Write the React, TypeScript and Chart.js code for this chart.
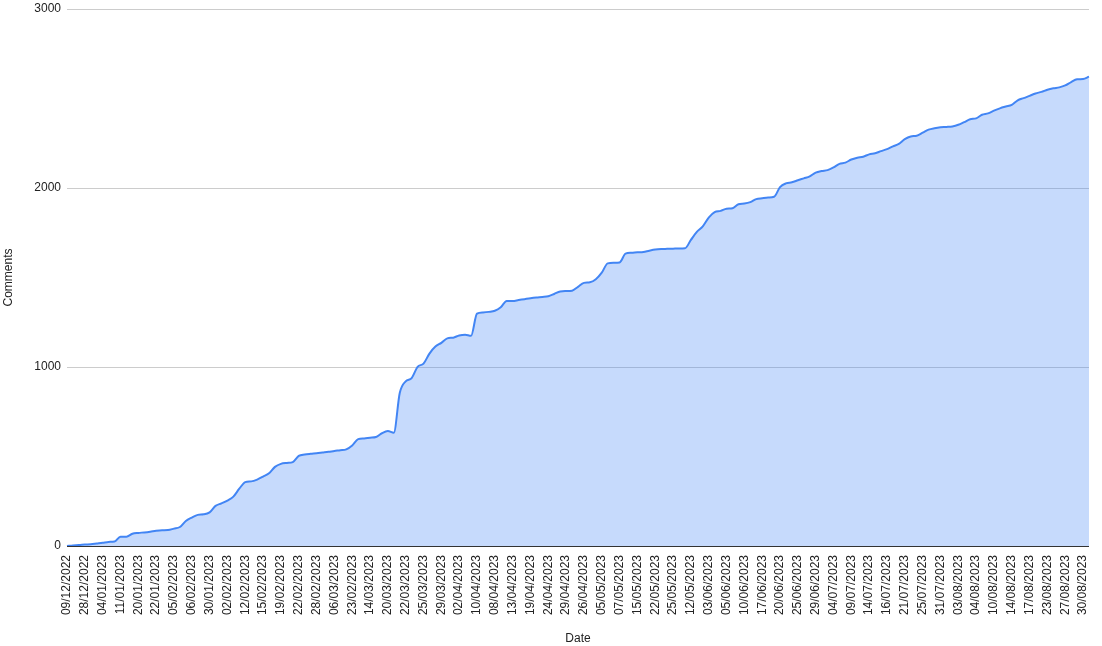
import { useEffect, useRef } from "react"
import { Chart, registerables } from "chart.js"

Chart.register(...registerables)

// tick labels shown on the x axis (one every 3 data points)
const tickDates = [
  "09/12/2022", "28/12/2022", "04/01/2023", "11/01/2023", "20/01/2023", "22/01/2023",
  "05/02/2023", "06/02/2023", "30/01/2023", "02/02/2023", "12/02/2023", "15/02/2023",
  "19/02/2023", "22/02/2023", "28/02/2023", "06/03/2023", "23/02/2023", "14/03/2023",
  "20/03/2023", "22/03/2023", "25/03/2023", "29/03/2023", "02/04/2023", "10/04/2023",
  "08/04/2023", "13/04/2023", "19/04/2023", "24/04/2023", "29/04/2023", "26/04/2023",
  "05/05/2023", "07/05/2023", "15/05/2023", "22/05/2023", "25/05/2023", "12/05/2023",
  "03/06/2023", "05/06/2023", "10/06/2023", "17/06/2023", "20/06/2023", "25/06/2023",
  "29/06/2023", "04/07/2023", "09/07/2023", "14/07/2023", "16/07/2023", "21/07/2023",
  "25/07/2023", "31/07/2023", "03/08/2023", "04/08/2023", "10/08/2023", "14/08/2023",
  "17/08/2023", "23/08/2023", "27/08/2023", "30/08/2023",
]

const pointsPerTick = 3

// cumulative comments
const comments = [
  0, 3, 5, 8, 10, 14, 18, 23, 25, 52,
  52, 68, 73, 76, 80, 85, 88, 89, 97, 106,
  140, 159, 174, 177, 188, 224, 238, 254, 276, 320,
  357, 361, 371, 388, 406, 442, 459, 464, 469, 503,
  511, 515, 518, 522, 526, 531, 535, 540, 562, 597,
  601, 605, 609, 630, 642, 633, 855, 920, 938, 1001,
  1019, 1075, 1114, 1135, 1160, 1164, 1176, 1180, 1174, 1298,
  1305, 1308, 1314, 1334, 1369, 1369, 1374, 1379, 1384, 1388,
  1391, 1395, 1408, 1422, 1424, 1426, 1448, 1470, 1473, 1490,
  1527, 1579, 1582, 1584, 1633, 1638, 1641, 1643, 1650, 1656,
  1659, 1660, 1661, 1662, 1663, 1710, 1755, 1786, 1835, 1865,
  1872, 1884, 1887, 1909, 1913, 1921, 1938, 1943, 1947, 1951,
  2005, 2026, 2032, 2043, 2054, 2065, 2086, 2095, 2100, 2115,
  2135, 2142, 2159, 2169, 2175, 2188, 2194, 2206, 2217, 2233,
  2246, 2273, 2288, 2292, 2309, 2326, 2334, 2339, 2341, 2344,
  2353, 2368, 2384, 2389, 2409, 2417, 2432, 2445, 2455, 2464,
  2490, 2502, 2515, 2528, 2537, 2549, 2557, 2562, 2573, 2592,
  2607, 2609, 2622,
]

const font = { family: "'Liberation Sans', Arial, sans-serif", size: 12 }

export default function App() {
  const chartRef = useRef<HTMLCanvasElement>(null)
  const chartInstance = useRef<Chart | null>(null)

  useEffect(() => {
    if (!chartRef.current) return

    const labels = comments.map((_, i) =>
      i % pointsPerTick === 0 ? tickDates[i / pointsPerTick] ?? "" : ""
    )

    if (chartInstance.current) chartInstance.current.destroy()

    chartInstance.current = new Chart(chartRef.current, {
      type: "line",
      data: {
        labels,
        datasets: [
          {
            label: "Comments",
            data: comments,
            borderColor: "#4285f4",
            backgroundColor: "rgba(66, 133, 244, 0.3)",
            borderWidth: 2,
            fill: "origin",
            pointRadius: 0,
            cubicInterpolationMode: "monotone",
          },
        ],
      },
      options: {
        responsive: true,
        maintainAspectRatio: false,
        animation: false,
        layout: { padding: { top: 9, right: 13, left: 0, bottom: 0 } },
        plugins: {
          legend: { display: false },
          tooltip: { enabled: false },
        },
        scales: {
          x: {
            offset: false,
            grid: { display: false },
            border: { display: false },
            ticks: {
              autoSkip: false,
              minRotation: 90,
              maxRotation: 90,
              padding: 1,
              color: "#222",
              font,
            },
            title: {
              display: true,
              text: "Date",
              color: "#222",
              font,
              padding: { top: 0, bottom: 0 },
            },
            afterFit: (scale) => {
              scale.height = 100
              scale.paddingLeft = 0
              scale.paddingRight = 0
            },
          },
          y: {
            min: 0,
            max: 3000,
            border: { display: false },
            grid: {
              drawTicks: false,
              color: (ctx) => (ctx.tick && ctx.tick.value === 0 ? "#333" : "#ccc"),
            },
            ticks: {
              stepSize: 1000,
              padding: 6,
              color: "#222",
              font,
              callback: (value) => String(value),
            },
            title: {
              display: true,
              text: "Comments",
              color: "#222",
              font,
              padding: { top: 1, bottom: 0 },
            },
            afterFit: (scale) => {
              scale.width = 67
              scale.paddingTop = 0
              scale.paddingBottom = 0
            },
          },
        },
      },
    })

    return () => {
      if (chartInstance.current) {
        chartInstance.current.destroy()
        chartInstance.current = null
      }
    }
  }, [])

  return (
    <div style={{ position: "absolute", left: 0, top: 0, width: 1102, height: 646, background: "#fff" }}>
      <canvas ref={chartRef} />
    </div>
  )
}
